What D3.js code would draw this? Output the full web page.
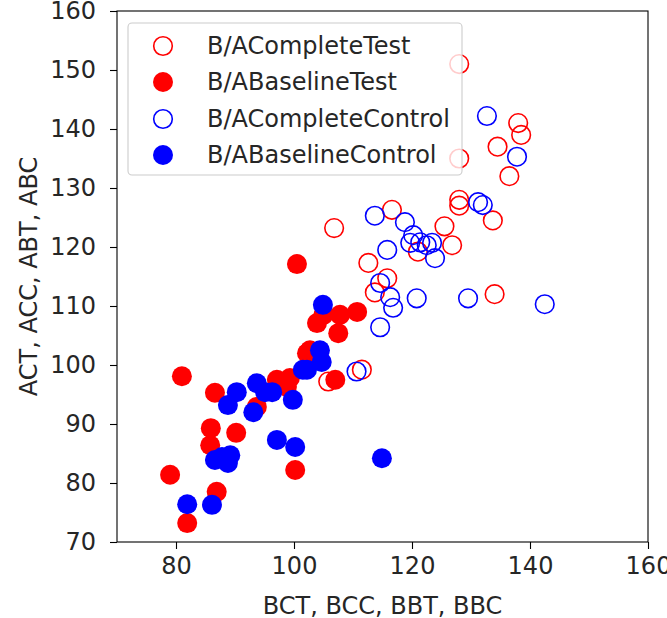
<!DOCTYPE html>
<html>
<head>
<meta charset="utf-8">
<script src="https://cdn.jsdelivr.net/npm/d3@7"></script>
<style>
  html, body { margin: 0; padding: 0; background: #fff; }
  svg { display: block; font-family: "DejaVu Sans", sans-serif; }
</style>
</head>
<body>
<svg id="chart" width="667" height="618"></svg>
<script>
// ---- data ----
const completeTestX = [128, 138, 138.5, 134.5, 136.5, 128, 128, 128, 125.5, 133.7, 126.8, 106.8, 116.6, 112.6, 115.8, 113.7, 121, 134, 111.5, 105.8];
const completeTestY = [151, 141, 139, 137, 132, 135, 128, 127, 123.5, 124.5, 120.3, 123.2, 126.3, 117.3, 114.7, 112.3, 119.2, 112, 99.2, 97.2];

const baselineTestX = [81, 86.6, 85.9, 90.2, 85.8, 79, 86.9, 81.9, 100.2, 93.7, 97.1, 99.3, 102.2, 107.8, 110.7, 103.9, 107.5, 107, 98.8, 100.5, 102.7, 105];
const baselineTestY = [98.1, 95.3, 89.3, 88.5, 86.4, 81.4, 78.5, 73.2, 82.2, 92.9, 97.5, 97.8, 102, 108.5, 109, 107.1, 105.4, 97.5, 96.3, 117.1, 102.5, 108.5];

const completeControlX = [132.7, 137.8, 131.2, 132, 113.7, 118.8, 120.2, 121.4, 122.5, 123.4, 123.9, 119.7, 115.8, 114.6, 116.3, 116.8, 114.6, 120.8, 129.5, 142.5, 110.6];
const completeControlY = [142.2, 135.3, 127.6, 127.1, 125.3, 124.2, 122, 120.8, 120.3, 120.7, 118.1, 120.7, 119.5, 113.9, 111.5, 109.7, 106.4, 111.3, 111.3, 110.3, 98.9];

const baselineControlX = [81.9, 86.1, 87.8, 89.2, 88.8, 86.6, 97.1, 100.2, 99.8, 88.8, 90.3, 93.1, 93.7, 95.1, 96.3, 101.5, 104.9, 104.4, 104.7, 102.2, 114.9];
const baselineControlY = [76.4, 76.3, 84.4, 84.7, 83.4, 83.9, 87.3, 86.1, 94.1, 93.2, 95.4, 92, 96.9, 95.4, 95.4, 99.2, 110.2, 102.5, 100.5, 99.2, 84.2];

const xTicks = [80, 100, 120, 140, 160];
const yTicks = [70, 80, 90, 100, 110, 120, 130, 140, 150, 160];

const seriesNames = ["B/ACompleteTest", "B/ABaselineTest", "B/ACompleteControl", "B/ABaselineControl"];
const seriesColors = ["red", "red", "blue", "blue"];
const seriesFilled = [false, true, false, true];
const xLabel = "BCT, BCC, BBT, BBC";
const yLabel = "ACT, ACC, ABT, ABC";

// ---- layout ----
const L = 117, R = 648, T = 11, B = 542;
const svg = d3.select("#chart");
const x = d3.scaleLinear().domain([70, 160]).range([L, R]);
const y = d3.scaleLinear().domain([70, 160]).range([B, T]);

const series = [
  d3.zip(completeTestX, completeTestY),
  d3.zip(baselineTestX, baselineTestY),
  d3.zip(completeControlX, completeControlY),
  d3.zip(baselineControlX, baselineControlY)
];

const rad = 9.3;
series.forEach((pts, i) => {
  svg.append("g").selectAll("circle").data(pts).join("circle")
    .attr("cx", d => x(d[0])).attr("cy", d => y(d[1])).attr("r", seriesFilled[i] ? rad + 0.7 : rad)
    .attr("fill", seriesFilled[i] ? seriesColors[i] : "none")
    .attr("stroke", seriesFilled[i] ? "none" : seriesColors[i])
    .attr("stroke-width", 1.6);
});

// axes
const fs = 24;
const xAxis = svg.append("g").attr("transform", `translate(0,${B})`)
  .call(d3.axisBottom(x).tickValues(xTicks).tickSize(7).tickSizeOuter(0).tickPadding(8));
const yAxis = svg.append("g").attr("transform", `translate(${L},0)`)
  .call(d3.axisLeft(y).tickValues(yTicks).tickSize(7).tickSizeOuter(0).tickPadding(14));
[xAxis, yAxis].forEach(g => {
  g.select(".domain").remove();
  g.selectAll("line").attr("stroke", "#000").attr("stroke-width", 1.1);
  g.selectAll("text").attr("font-size", fs).attr("fill", "#262626").attr("font-family", "DejaVu Sans");
});

// frame
svg.append("rect").attr("x", L).attr("y", T).attr("width", R - L).attr("height", B - T)
  .attr("fill", "none").attr("stroke", "#000").attr("stroke-width", 1.1);

// axis labels
svg.append("text").attr("x", (L + R) / 2).attr("y", 614).attr("text-anchor", "middle")
  .attr("font-size", fs).attr("fill", "#262626").text(xLabel);
svg.append("text").attr("transform", `translate(37,${(T + B) / 2}) rotate(-90)`).attr("text-anchor", "middle")
  .attr("font-size", fs).attr("fill", "#262626").text(yLabel);

// legend
const lg = svg.append("g");
lg.append("rect").attr("x", 128).attr("y", 23).attr("width", 334).attr("height", 152).attr("rx", 4)
  .attr("fill", "#fff").attr("fill-opacity", 0.8).attr("stroke", "#ccc").attr("stroke-width", 1.1);
const ly = [46, 82, 119, 155];
seriesNames.forEach((name, i) => {
  lg.append("circle").attr("cx", 163).attr("cy", ly[i]).attr("r", seriesFilled[i] ? rad + 0.7 : rad)
    .attr("fill", seriesFilled[i] ? seriesColors[i] : "none")
    .attr("stroke", seriesFilled[i] ? "none" : seriesColors[i]).attr("stroke-width", 1.6);
  lg.append("text").attr("x", 207).attr("y", ly[i]).attr("dy", "0.35em")
    .attr("font-size", fs).attr("fill", "#262626").text(name);
});
</script>
</body>
</html>
